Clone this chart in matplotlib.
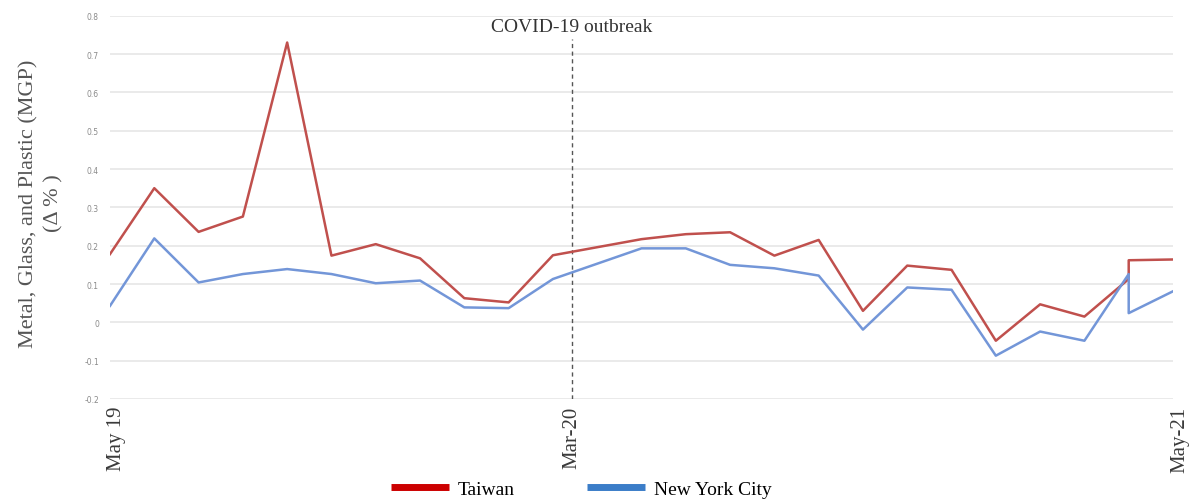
import matplotlib
matplotlib.use("Agg")
import matplotlib.pyplot as plt
from matplotlib.lines import Line2D
from matplotlib.transforms import ScaledTranslation

# month offsets from May 2019 (index 23 appears twice: vertical jump)
months = [0, 1, 2, 3, 4, 5, 6, 7, 8, 9, 10, 12, 13, 14, 15, 16, 17, 18, 19, 20, 21, 22, 23, 23, 24]
taiwan = [0.178, 0.350, 0.236, 0.276, 0.730, 0.174, 0.204, 0.167, 0.063, 0.052, 0.175,
          0.217, 0.230, 0.235, 0.174, 0.215, 0.030, 0.148, 0.137, -0.048, 0.047, 0.015,
          0.113, 0.162, 0.164]
nyc = [0.043, 0.219, 0.104, 0.126, 0.139, 0.126, 0.102, 0.109, 0.039, 0.037, 0.113,
       0.193, 0.193, 0.150, 0.141, 0.122, -0.019, 0.091, 0.085, -0.087, -0.024, -0.048,
       0.126, 0.024, 0.081]
tick_pos = [0, 10.43, 24]
tick_labels = ["May 19", "Mar-20", "May-21"]
yticks = [-0.2, -0.1, 0, 0.1, 0.2, 0.3, 0.4, 0.5, 0.6, 0.7, 0.8]
ytick_labels = ["-0.2", "-0.1", "0", "0.1", "0.2", "0.3", "0.4", "0.5", "0.6", "0.7", "0.8"]
outbreak = 10.43

fig = plt.figure(figsize=(11.92, 5.02), dpi=100)
ax = fig.add_axes([110 / 1192, 1 - 400 / 502, 1063 / 1192, (400 - 16.7) / 502])

ax.plot(months, taiwan, color="#c0504d", lw=1.8, zorder=3)
ax.plot(months, nyc, color="#7396d8", lw=1.8, zorder=3)

ax.set_xlim(0, 24)
ax.set_ylim(-0.2, 0.8)
ax.set_yticks(yticks)
ax.set_yticklabels(ytick_labels, fontsize=5.5, color="#8a8a8a", family="DejaVu Sans")
ax.tick_params(axis="y", length=0, pad=8)
ax.grid(axis="y", color="#e8e8e8", lw=1.3)
ax.set_axisbelow(True)
for s in ax.spines.values():
    s.set_visible(False)

ax.set_xticks(tick_pos)
ax.set_xticklabels(tick_labels, rotation=90, fontsize=15, family="Liberation Serif",
                   color="#3a3a3a", va="top", ha="center")
ax.tick_params(axis="x", length=0, pad=5)
labs = ax.get_xticklabels()
for i in (0, 2):
    labs[i].set_transform(labs[i].get_transform() + ScaledTranslation(7 / 100, 0, fig.dpi_scale_trans))

ax.axvline(outbreak, ymin=0, ymax=(400 - 40) / (400 - 16.7), color="#555555", lw=1.0,
           ls=(0, (3, 2.5)), zorder=2)
ax.text(outbreak, 0.773, "COVID-19 outbreak", ha="center", va="center", fontsize=14,
        family="Liberation Serif", color="#333333")

fig.text(41 / 1192, 1 - 203.5 / 502, "Metal, Glass, and Plastic (MGP)\n(\u0394 % )",
         rotation=90, ha="center", va="center", multialignment="center", fontsize=16,
         family="Liberation Serif", color="#555555", linespacing=1.4)

handles = [Line2D([], [], color="#cc0000", lw=5, solid_capstyle="butt"),
           Line2D([], [], color="#3b7dc8", lw=5, solid_capstyle="butt")]
fig.legend(handles, ["Taiwan", "New York City"], loc="center", bbox_to_anchor=(581 / 1192, 1 - 490 / 502),
           ncol=2, frameon=False, prop={"family": "Liberation Serif", "size": 14},
           handlelength=3.0, columnspacing=3.7, handletextpad=0.45)

fig.savefig("out.png", dpi=100, facecolor="white")
